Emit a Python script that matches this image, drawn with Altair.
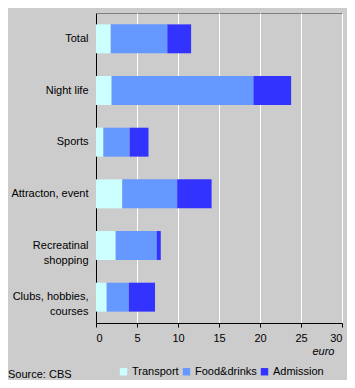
import altair as alt
import pandas as pd

categories = ["Total", "Night life", "Sports", "Attracton, event",
              "Recreatinal\nshopping", "Clubs, hobbies,\ncourses"]
transport = [1.8, 1.9, 0.9, 3.2, 2.4, 1.3]
food_drinks = [6.9, 17.3, 3.2, 6.7, 5.0, 2.7]
admission = [2.9, 4.6, 2.3, 4.2, 0.5, 3.2]
series = ["Transport", "Food&drinks", "Admission"]
colors = ["#CCFFFF", "#6699FF", "#3333FF"]
x_ticks = [0, 5, 10, 15, 20, 25, 30]

rows = []
for i, c in enumerate(categories):
    for j, (s, vals) in enumerate(zip(series, [transport, food_drinks, admission])):
        rows.append({"category": c, "series": s, "value": vals[i], "order": j})
df = pd.DataFrame(rows)

bars = alt.Chart(df).mark_bar().encode(
    y=alt.Y("category:N", sort=categories, title=None,
            scale=alt.Scale(paddingInner=0.44, paddingOuter=0.22),
            axis=alt.Axis(labelExpr="split(datum.value, '\\n')", ticks=False,
                          domainColor="black", labelPadding=8, labelFontSize=11,
                          labelColor="black", labelFont="Liberation Sans",
                          labelLineHeight=15)),
    x=alt.X("value:Q", stack="zero",
            scale=alt.Scale(domain=[0, 30], nice=False),
            axis=alt.Axis(values=x_ticks, title="euro", titleFontStyle="italic",
                          titleFontWeight="normal", titleFontSize=11,
                          titleFont="Liberation Sans", titleColor="black",
                          titleAlign="right", titleX=238, titleY=28,
                          titleBaseline="middle",
                          gridColor="white", gridOpacity=1, domainColor="black",
                          tickColor="black", tickSize=4, labelPadding=5,
                          labelFontSize=11, labelColor="black",
                          labelFont="Liberation Sans")),
    color=alt.Color("series:N", sort=series,
                    scale=alt.Scale(domain=series, range=colors),
                    legend=alt.Legend(title=None, orient="none", direction="horizontal",
                                      legendX=22, legendY=353, symbolType="square",
                                      symbolSize=55, symbolStrokeWidth=0,
                                      labelFontSize=11, labelFont="Liberation Sans",
                                      labelColor="black", columnPadding=2,
                                      labelOffset=3, padding=0)),
    order=alt.Order("order:Q"),
)

source = alt.Chart(pd.DataFrame({"t": ["Source: CBS"]})).mark_text(
    align="left", baseline="middle", fontSize=11, font="Liberation Sans",
    color="black").encode(text="t:N", x=alt.value(-88), y=alt.value(362))

chart = alt.layer(bars, source).properties(
    width=246, height=310, background="#CCCCCC",
    autosize=alt.AutoSizeParams(type="none"),
    padding={"left": 88, "top": 5, "right": 5, "bottom": 57},
).configure_view(fill="#CCCCCC", stroke="#808080", strokeWidth=1)

chart.save("out.html", embed_options={"renderer": "svg", "actions": False})
